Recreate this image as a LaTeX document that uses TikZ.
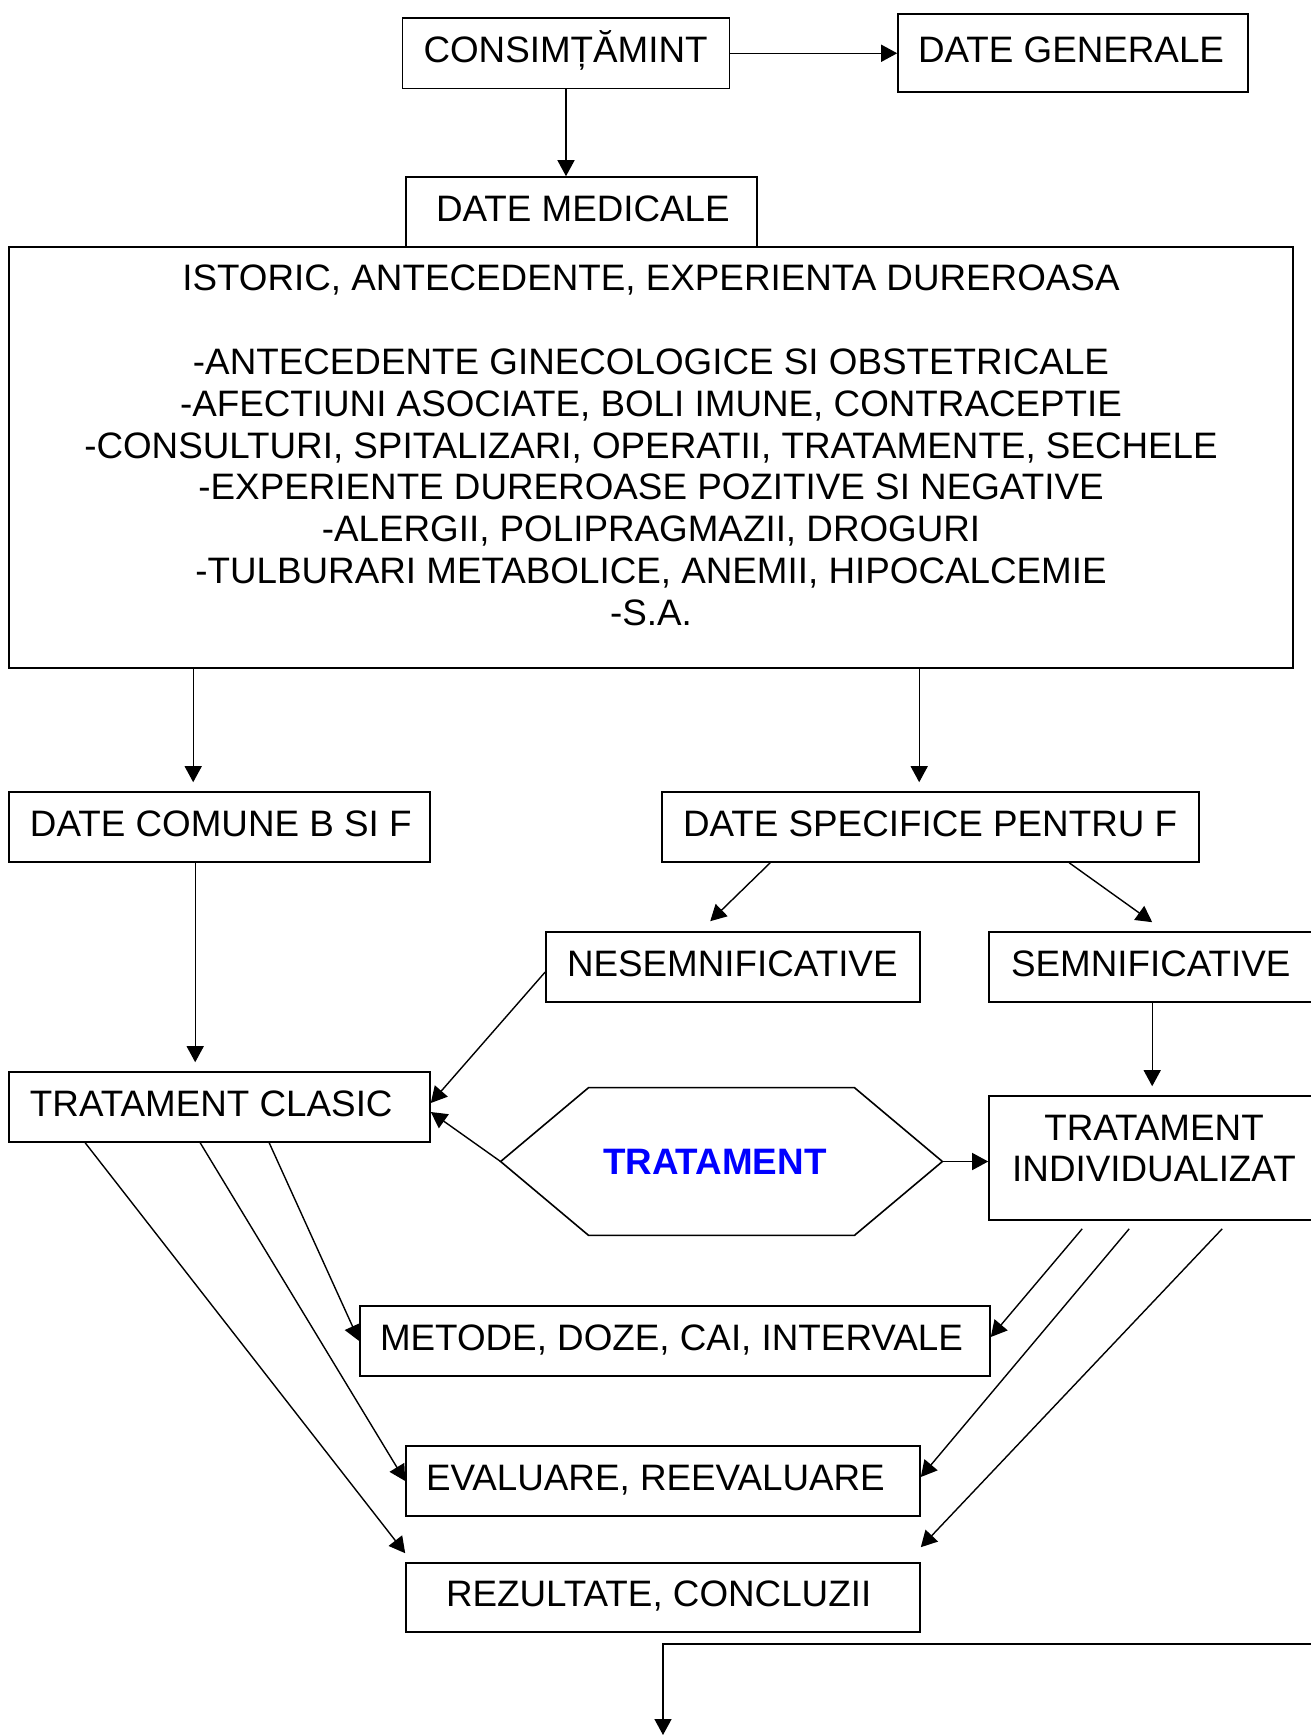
\documentclass[tikz,border=0pt]{standalone}
\usepackage{fontspec}
\setmainfont{Liberation Sans}
\usetikzlibrary{arrows.meta,calc}
\definecolor{tblue}{RGB}{0,0,255}
\newcommand\padtxt[3]{\makebox[#1][l]{\hspace{#2}#3}}
\begin{document}
\begin{tikzpicture}[x=0.5pt,y=-0.5pt,
  box/.style={draw,line width=0.8pt,inner sep=0pt,font=\fontsize{18.4pt}{20.9pt}\selectfont,text height=10.2pt,text depth=1.1pt},
  arr/.style={-{Triangle[length=8pt,width=8.5pt]},line width=0.7pt}]
\useasboundingbox (0,0) rectangle (1311,1736);
\fill[white] (0,0) rectangle (1311,1736);
\clip (0,0) rectangle (1311,1736);

\node[box,minimum width=163.5pt,minimum height=35.25pt] (cons) at (566,53.25) {\padtxt{163.5pt}{10.5pt}{CONSIMȚĂMINT}};
\node[box,minimum width=175pt,minimum height=39pt] (dg) at (1073,53) {\padtxt{175pt}{10pt}{DATE GENERALE}};
\node[box,minimum width=175.5pt,minimum height=35pt] (dm) at (581.5,212) {\padtxt{175.5pt}{15pt}{DATE MEDICALE}};
\node[box,minimum width=642pt,minimum height=210.5pt,text height=0.84pt,text depth=0pt] (big) at (651,457.5) {\begin{tabular}{@{}c@{}}ISTORIC, ANTECEDENTE, EXPERIENTA DUREROASA\\ \\
-ANTECEDENTE GINECOLOGICE SI OBSTETRICALE\\
-AFECTIUNI ASOCIATE, BOLI IMUNE, CONTRACEPTIE\\
-CONSULTURI, SPITALIZARI, OPERATII, TRATAMENTE, SECHELE\\
-EXPERIENTE DUREROASE POZITIVE SI NEGATIVE\\
-ALERGII, POLIPRAGMAZII, DROGURI\\
-TULBURARI METABOLICE, ANEMII, HIPOCALCEMIE\\
-S.A.\end{tabular}};
\node[box,minimum width=210.5pt,minimum height=35pt] (dcbf) at (219.5,827) {\padtxt{210.5pt}{10.5pt}{DATE COMUNE B SI F}};
\node[box,minimum width=268.5pt,minimum height=35pt] (dspf) at (930.5,827) {\padtxt{268.5pt}{10.5pt}{DATE SPECIFICE PENTRU F}};
\node[box,minimum width=187pt,minimum height=35pt] (nes) at (733,967) {\padtxt{187pt}{10.5pt}{NESEMNIFICATIVE}};
\node[box,minimum width=168pt,minimum height=35pt] (sem) at (1157,967) {\padtxt{168pt}{11pt}{SEMNIFICATIVE}};
\node[box,minimum width=210.5pt,minimum height=35pt] (tc) at (219.5,1107) {\padtxt{210.5pt}{10.5pt}{TRATAMENT CLASIC}};
\node[box,minimum width=168pt,minimum height=62pt,text height=3.34pt,text depth=0pt] (ti) at (1157,1158) {\begin{tabular}{@{}c@{}}TRATAMENT\\INDIVIDUALIZAT\end{tabular}\kern3pt};
\node[inner sep=0pt,minimum width=220.5pt,minimum height=73.5pt,font=\bfseries\fontsize{18.4pt}{20.9pt}\selectfont,text=tblue,text height=13.2pt,text depth=0pt] (hex) at (721.5,1161.5) {\padtxt{220.5pt}{51pt}{TRATAMENT}};
\draw[line width=0.8pt] (hex.west) -- ($(hex.north west)+(88,0)$) -- ($(hex.north east)+(-88,0)$) -- (hex.east) -- ($(hex.south east)+(-88,0)$) -- ($(hex.south west)+(88,0)$) -- cycle;
\node[box,minimum width=315pt,minimum height=35pt] (met) at (675,1341) {\padtxt{315pt}{10pt}{METODE, DOZE, CAI, INTERVALE}};
\node[box,minimum width=257pt,minimum height=35pt] (eval) at (663,1481) {\padtxt{257pt}{10pt}{EVALUARE, REEVALUARE}};
\node[box,minimum width=257pt,minimum height=34.5pt] (rez) at (663,1597.5) {\padtxt{257pt}{20pt}{REZULTATE, CONCLUZII}};

\draw[arr] (cons.east) -- (cons.east -| dg.west);
\draw[arr] (cons.south) -- (cons.south |- dm.north);
\coordinate (a1) at ($(dcbf.north west)+(185,-9)$);
\draw[arr] (a1 |- big.south) -- (a1);
\coordinate (a2) at ($(dspf.north west)+(258,-9)$);
\draw[arr] (a2 |- big.south) -- (a2);
\draw[arr] ($(dspf.south west)+(109,0)$) -- ($(nes.north west)+(165,-10)$);
\draw[arr] ($(dspf.south west)+(408,0)$) -- ($(sem.north west)+(164,-9)$);
\coordinate (a3) at ($(tc.north west)+(187,-9)$);
\draw[arr] (a3 |- dcbf.south) -- (a3);
\draw[arr] ($(nes.west)+(0,5)$) -- ($(tc.east)+(0,-4)$);
\draw[arr] (hex.west) -- ($(tc.east)+(0,5)$);
\draw[arr] (hex.east) -- (hex.east -| ti.west);
\coordinate (a4) at ($(ti.north west)+(164,-9)$);
\draw[arr] (a4 |- sem.south) -- (a4);
\draw[arr] ($(tc.south west)+(261,0)$) -- (met.west);
\draw[arr] ($(tc.south west)+(192,0)$) -- (eval.west);
\draw[arr] ($(tc.south west)+(77,0)$) -- ($(rez.north west)+(0,-9)$);
\draw[arr] ($(ti.south west)+(94,8)$) -- ($(met.east)+(0,-4)$);
\draw[arr] ($(ti.south west)+(141,8)$) -- ($(eval.east)+(0,-4)$);
\draw[arr] ($(ti.south west)+(234,8)$) -- ($(rez.north east)+(0,-15)$);
\coordinate (offr) at (1345,1644);
\coordinate (endc) at (663,1735);
\draw[arr] (offr) -| (endc);
\end{tikzpicture}
\end{document}
